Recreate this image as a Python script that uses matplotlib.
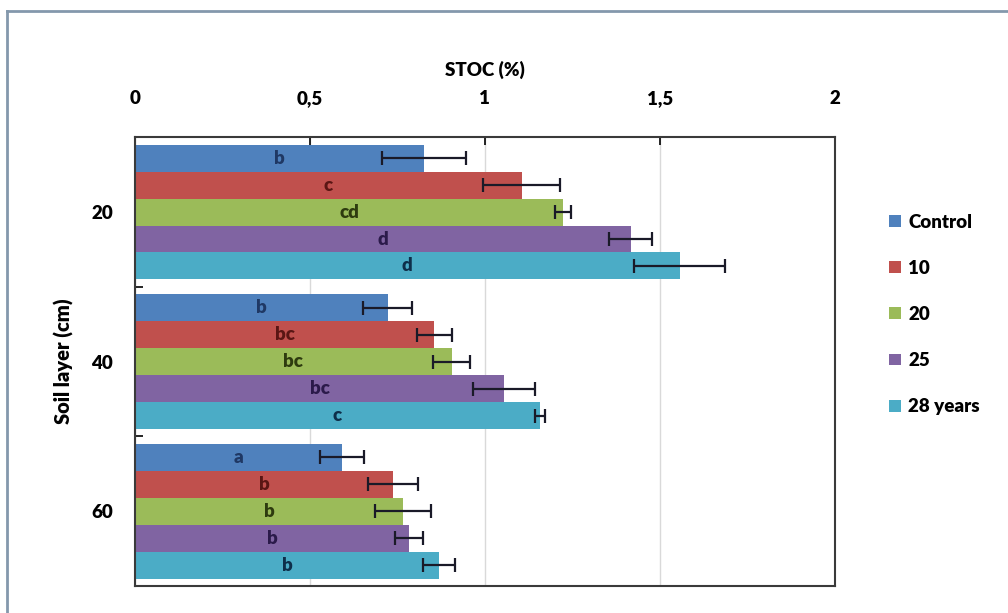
import numpy as np
import matplotlib.pyplot as plt
from matplotlib.lines import Line2D

plt.rcParams['font.family'] = ['Lato', 'DejaVu Sans']
plt.rcParams['font.weight'] = 'bold'

layers = ['20', '40', '60']
series = ['Control', '10', '20', '25', '28 years']
colors = ['#4F81BD', '#C0504D', '#9BBB59', '#8064A2', '#4BACC6']
text_colors = ['#1F3864', '#5A1614', '#2E3B0F', '#2B1A4A', '#0E2F4A']

# STOC (%) per layer, one list per series
stoc = [
    [0.826, 0.723, 0.591],
    [1.106, 0.855, 0.737],
    [1.223, 0.905, 0.766],
    [1.417, 1.055, 0.783],
    [1.557, 1.157, 0.869],
]
err = [
    [0.12, 0.07, 0.063],
    [0.11, 0.05, 0.071],
    [0.023, 0.053, 0.081],
    [0.062, 0.088, 0.04],
    [0.13, 0.014, 0.045],
]
letters = [
    ['b', 'b', 'a'],
    ['c', 'bc', 'b'],
    ['cd', 'bc', 'b'],
    ['d', 'bc', 'b'],
    ['d', 'c', 'b'],
]

fig = plt.figure(figsize=(10.08, 6.13), dpi=100)
ax = fig.add_axes([0.134, 0.044, 0.694, 0.732])

# outer frame of the chart area
frame_col = '#8498AC'
fig.add_artist(Line2D([0.007, 0.007], [0.0, 0.982], color=frame_col, lw=2, transform=fig.transFigure))
fig.add_artist(Line2D([0.007, 1.0], [0.982, 0.982], color=frame_col, lw=2, transform=fig.transFigure))

y = np.arange(len(layers))
h = 0.18
for i, name in enumerate(series):
    pos = y - 0.36 + i * h
    ax.barh(pos, stoc[i], height=h, color=colors[i], label=name, zorder=2)
    ax.errorbar(stoc[i], pos, xerr=err[i], fmt='none', ecolor='#1a1a28',
                elinewidth=1.6, capsize=5, capthick=1.6, zorder=3)
    for j in range(len(layers)):
        ax.text(stoc[i][j] / 2, pos[j], letters[i][j], ha='center', va='center',
                fontsize=13.5, fontweight='heavy', color=text_colors[i], zorder=4)

ax.set_xlim(0, 2)
ax.set_ylim(2.5, -0.5)
ax.xaxis.tick_top()
ax.xaxis.set_label_position('top')
ax.set_xticks([0, 0.5, 1, 1.5, 2])
ax.set_xticklabels(['0', '0,5', '1', '1,5', '2'])
ax.set_xlabel('STOC (%)', fontsize=13.5, fontweight='heavy', labelpad=10)
ax.tick_params(axis='x', direction='in', length=6, width=1.2, pad=22, labelsize=13.5)
ax.grid(axis='x', color='#D9D9D9', lw=1, zorder=0)

ax.set_yticks(y)
ax.set_yticklabels(layers)
ax.set_yticks([0.5, 1.5], minor=True)
ax.tick_params(axis='y', which='major', length=0, pad=16, labelsize=13.5)
ax.tick_params(axis='y', which='minor', direction='in', length=6, width=1.2)
ax.set_ylabel('Soil layer (cm)', fontsize=14.5, fontweight='heavy', labelpad=12)

for lab in ax.get_xticklabels() + ax.get_yticklabels():
    lab.set_fontweight('heavy')

for s in ax.spines.values():
    s.set_color('#3a3a3a')
    s.set_linewidth(1.5)

leg = ax.legend(loc='center left', bbox_to_anchor=(1.065, 0.605), frameon=False,
                prop={'size': 13.5, 'weight': 'heavy'}, handlelength=0.6, handleheight=0.6,
                handletextpad=0.4, labelspacing=1.55, borderpad=0)

fig.savefig('out.png', dpi=100)
